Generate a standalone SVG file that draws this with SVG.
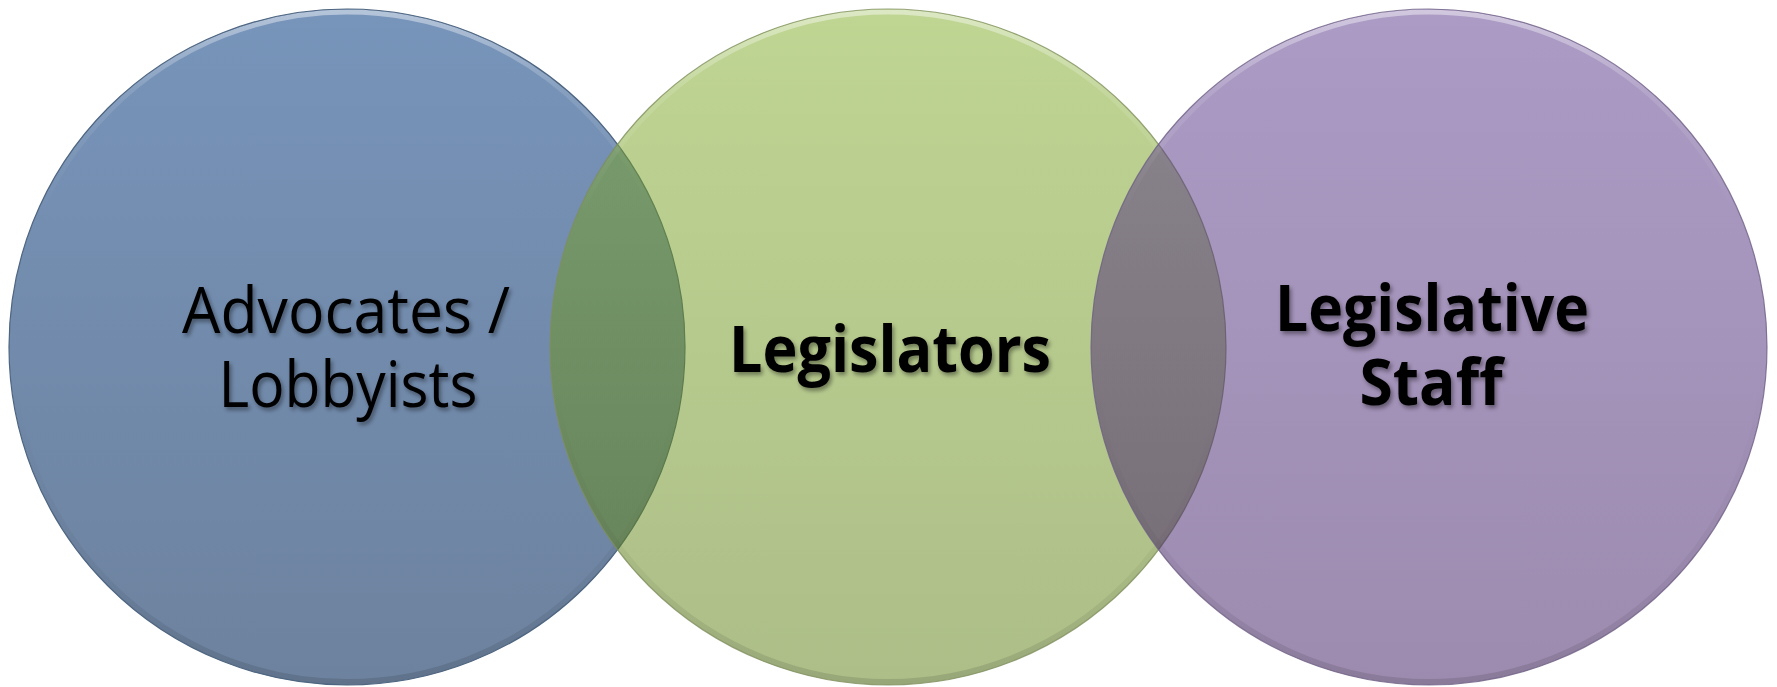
<svg xmlns="http://www.w3.org/2000/svg" width="1777" height="687" viewBox="0 0 1777 687">
  <style>
    .lbl { font-family: "Open Sans", "Noto Sans", "Liberation Sans", sans-serif; font-size: 64px; fill: #000; text-anchor: middle; filter: url(#txtShadow); }
    .bold { font-weight: bold; }
    .edge { fill: none; stroke-width: 1.2; }
    .rimTop { fill: none; stroke: url(#rimLight); stroke-width: 5; }
    .rimBot { fill: none; stroke: url(#rimDark); stroke-width: 6; }
  </style>
  <defs>
    <linearGradient id="blueFill" x1="0" y1="0" x2="0" y2="1">
      <stop offset="0" stop-color="#7794BA"/>
      <stop offset="1" stop-color="#6D829E"/>
    </linearGradient>
    <linearGradient id="greenFill" x1="0" y1="0" x2="0" y2="1">
      <stop offset="0" stop-color="#7FAB25" stop-opacity="0.5"/>
      <stop offset="1" stop-color="#5B7D11" stop-opacity="0.5"/>
    </linearGradient>
    <linearGradient id="purpleFill" x1="0" y1="0" x2="0" y2="1">
      <stop offset="0" stop-color="#57378B" stop-opacity="0.5"/>
      <stop offset="1" stop-color="#3B175F" stop-opacity="0.5"/>
    </linearGradient>
    <linearGradient id="rimLight" x1="0" y1="0" x2="0" y2="1">
      <stop offset="0" stop-color="#FFFFFF" stop-opacity="0.45"/>
      <stop offset="0.12" stop-color="#FFFFFF" stop-opacity="0.12"/>
      <stop offset="0.3" stop-color="#FFFFFF" stop-opacity="0"/>
    </linearGradient>
    <linearGradient id="rimDark" x1="0" y1="0" x2="0" y2="1">
      <stop offset="0.55" stop-color="#000000" stop-opacity="0"/>
      <stop offset="0.85" stop-color="#000000" stop-opacity="0.05"/>
      <stop offset="1" stop-color="#000000" stop-opacity="0.12"/>
    </linearGradient>
    <filter id="txtShadow" x="-10%" y="-30%" width="120%" height="160%">
      <feDropShadow dx="2" dy="3" stdDeviation="2" flood-color="#000" flood-opacity="0.4"/>
    </filter>
  </defs>

  <!-- left circle -->
  <g id="advocates">
    <circle cx="347" cy="347" r="338" fill="url(#blueFill)"/>
    <circle cx="347" cy="347" r="335" class="rimTop"/>
    <circle cx="347" cy="347" r="335" class="rimBot"/>
    <circle cx="347" cy="347" r="338" class="edge" stroke="#4E6580"/>
    <text class="lbl" x="346" y="333" textLength="328" lengthAdjust="spacingAndGlyphs">Advocates /</text>
    <text class="lbl" x="348" y="407" textLength="259" lengthAdjust="spacingAndGlyphs">Lobbyists</text>
  </g>

  <!-- middle circle -->
  <g id="legislators">
    <circle cx="888" cy="347" r="338" fill="url(#greenFill)"/>
    <circle cx="888" cy="347" r="335" class="rimTop"/>
    <circle cx="888" cy="347" r="335" class="rimBot"/>
    <circle cx="888" cy="347" r="338" class="edge" stroke="#7E8E5C" stroke-opacity="0.8"/>
    <text class="lbl bold" x="890" y="372" textLength="322" lengthAdjust="spacingAndGlyphs">Legislators</text>
  </g>

  <!-- right circle -->
  <g id="staff">
    <circle cx="1429" cy="347" r="338" fill="url(#purpleFill)"/>
    <circle cx="1429" cy="347" r="335" class="rimTop"/>
    <circle cx="1429" cy="347" r="335" class="rimBot"/>
    <circle cx="1429" cy="347" r="338" class="edge" stroke="#6E5F84" stroke-opacity="0.8"/>
    <text class="lbl bold" x="1432" y="331" textLength="314" lengthAdjust="spacingAndGlyphs">Legislative</text>
    <text class="lbl bold" x="1431" y="405" textLength="143" lengthAdjust="spacingAndGlyphs">Staff</text>
  </g>
</svg>
